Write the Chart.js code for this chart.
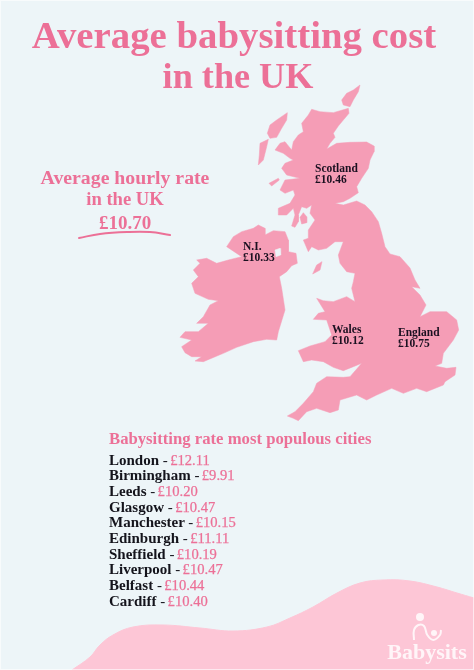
<!DOCTYPE html>
<html>
<head>
<meta charset="utf-8">
<script src="https://cdn.jsdelivr.net/npm/chart.js@4/dist/chart.umd.min.js"></script>
<style>
  html, body { margin: 0; padding: 0; background: #edf5f8; }
  #page { position: relative; width: 474px; height: 670px; overflow: hidden; }
  #page canvas { position: absolute; left: 0; top: 0; }
  #page::after { content: ''; position: absolute; inset: 0; border: 1.5px solid rgba(255,255,255,0.6); pointer-events: none; }
  .txt { position: absolute; white-space: pre; font-family: "Liberation Serif", serif; font-weight: bold; line-height: 1; }
</style>
</head>
<body>
<div id="page"><canvas id="mapChart" width="474" height="670"></canvas></div>
<script>
// Rates
const averageRate = '£10.70';
const regionNames = ['Scotland', 'N.I.', 'Wales', 'England'];
const regionRates = ['£10.46', '£10.33', '£10.12', '£10.75'];
const cities = ['London', 'Birmingham', 'Leeds', 'Glasgow', 'Manchester', 'Edinburgh', 'Sheffield', 'Liverpool', 'Belfast', 'Cardiff'];
const cityRates = ['£12.11', '£9.91', '£10.20', '£10.47', '£10.15', '£11.11', '£10.19', '£10.47', '£10.44', '£10.40'];

// Map outlines, in map units
const greatBritain = [[425,28],[450,35],[490,38],[535,25],[537,40],[520,60],[505,78],[490,100],[495,112],[480,130],[470,147],[500,130],[540,127],[590,126],[612,138],[612,155],[600,180],[595,205],[575,235],[560,260],[565,278],[540,295],[520,305],[495,310],[520,315],[560,303],[585,315],[605,335],[625,365],[635,400],[645,440],[660,462],[690,470],
  [720,504],[735,540],[750,565],[725,560],[750,585],[768,615],[750,650],[780,635],[830,635],[860,660],[866,690],[850,720],[820,760],[815,790],[795,798],[830,805],[858,802],[855,825],[825,845],[820,855],[770,875],[740,865],[700,880],[665,865],[620,885],[590,900],[560,885],[510,900],[505,930],[480,938],[440,925],[410,935],[385,962],[370,955],[352,948],[375,935],[400,910],[430,875],[440,850],[470,830],[520,832],[540,830],[575,790],[550,800],[520,812],[490,802],[460,785],[425,780],[400,785],[385,752],[420,738],[465,725],[485,705],[470,660],[430,658],[445,640],[465,635],[440,595],[460,602],[490,605],[530,590],[555,605],[545,565],[550,545],[555,520],[530,515],
  [510,490],[505,465],[520,425],[495,425],[470,445],[445,450],[425,440],[415,455],[400,420],[415,415],[415,390],[435,360],[420,340],[425,315],[410,325],[395,320],[385,345],[385,365],[375,382],[365,378],[375,345],[370,325],[350,345],[325,345],[325,325],[360,310],[375,285],[370,270],[345,280],[330,270],[345,240],[390,235],[350,225],[335,205],[345,190],[370,180],[360,175],[340,160],[315,150],[330,130],[345,125],[365,150],[370,125],[385,105],[400,95],[395,70],[415,45],[425,28]];
const ireland = [[265,375],[285,385],[285,405],[310,392],[345,395],[355,420],[355,455],[378,460],[382,490],[365,497],[350,515],[328,530],[335,565],[345,630],[325,695],[320,720],[290,718],[250,725],[200,742],[160,760],[100,785],[75,783],[95,770],[65,770],[45,758],[35,740],[65,720],[30,712],[45,695],[85,695],[115,670],[80,670],[100,650],[120,615],[145,602],[115,598],[75,580],[65,550],[85,530],[70,510],[90,490],[80,480],[110,475],[140,490],[175,480],[215,470],[170,440],[190,410],[215,395],[250,385],[265,375]];
const loughNeagh = [[315,450],[330,445],[332,465],[318,470],[315,450]];
const lewis = [[352,38],[350,60],[335,85],[320,112],[300,115],[292,100],[300,75],[320,60],[352,38]];
const uist = [[295,118],[290,140],[280,180],[265,195],[268,165],[270,130],[295,118]];
const jura = [[297,250],[325,235],[328,240],[305,258],[297,250]];
const arran = [[400,338],[410,350],[410,368],[395,372],[390,352],[400,338]];
const isleOfMan = [[428,522],[440,495],[456,485],[450,510],[428,522]];
const orkney = [[515,0],[530,-20],[550,-30],[570,-45],[565,-25],[550,0],[540,20],[520,15],[515,0]];
const islands = [lewis, uist, jura, arran, isleOfMan, orkney];

// Decoration lines
const footerWave = [[-294,1710],[-240,1671],[-210,1635],[-171,1605],[-111,1581],[-21,1575],[90,1584],[189,1593],[291,1581],[360,1554],[429,1521],[501,1479],[570,1449],[639,1440],[720,1443],[801,1461],[861,1479],[912,1494]];
const underline = [[-273,414],[-210,402],[-129,396],[-60,396],[0,405]];
const logoBody = [[732,1620],[732,1590],[745,1575],[762,1578],[772,1605],[790,1620],[810,1605],[813,1590]];
const logoHeads = [[750,1551],[792,1599]];

const pink = '#f59db6';
const bg = '#edf5f8';
const titlePink = '#ec7097';

function pts(list) {
  return list.map(function (p) { return { x: p[0], y: p[1] }; });
}
function shape(list, color) {
  return { data: pts(list), showLine: true, fill: 'shape', backgroundColor: color, borderColor: color, borderWidth: 0.5, pointRadius: 0, tension: 0 };
}

// first dataset is painted last
const datasets = [
  { data: pts(logoHeads), showLine: false, backgroundColor: '#fff5f8', pointRadius: [4, 3], pointBorderWidth: 0 },
  { data: pts(logoBody), showLine: true, fill: false, borderColor: '#fff5f8', borderWidth: 2, pointRadius: 0, tension: 0.4 },
  { data: pts(underline), showLine: true, fill: false, borderColor: titlePink, borderWidth: 2, borderCapStyle: 'round', pointRadius: 0, tension: 0.4 },
  shape(loughNeagh, bg)
];
islands.forEach(function (i) { datasets.push(shape(i, pink)); });
datasets.push(shape(greatBritain, pink));
datasets.push(shape(ireland, pink));
datasets.push({ data: pts(footerWave), showLine: true, fill: 'start', backgroundColor: '#fdc6d6', borderColor: '#fdc6d6', borderWidth: 1, pointRadius: 0, tension: 0.4 });

new Chart(document.getElementById('mapChart'), {
  type: 'scatter',
  data: { datasets: datasets },
  options: {
    responsive: false,
    animation: false,
    layout: { padding: 0, autoPadding: false },
    plugins: { legend: { display: false }, tooltip: { enabled: false } },
    scales: {
      // suggested bounds: outlines are not sorted by x
      x: { display: false, bounds: 'data', suggestedMin: -510, suggestedMax: 912 },
      y: { display: false, min: -300, max: 1710, reverse: true }
    }
  }
});

// Text goes on top of the canvas
const page = document.getElementById('page');
function addText(str, x, baseline, size, color, align, weight) {
  const el = document.createElement('div');
  el.className = 'txt';
  el.textContent = str;
  el.style.fontSize = size + 'px';
  el.style.color = color;
  el.style.top = (baseline - size * 0.8165) + 'px';
  if (weight) el.style.fontWeight = weight;
  el.style.left = x + 'px';
  if (align === 'center') el.style.transform = 'translateX(-50%)';
  page.appendChild(el);
  return el;
}

addText('Average babysitting cost', 234, 48, 38.8, titlePink, 'center');
addText('in the UK', 238, 88, 36.2, titlePink, 'center');
addText('Average hourly rate', 125, 184, 19.8, titlePink, 'center');
addText('in the UK', 125, 205, 18.6, titlePink, 'center');
addText(averageRate, 125, 229, 19, titlePink, 'center');
addText('Babysitting rate most populous cities', 109, 445, 16.7, titlePink);

const regionPos = [[315, 172], [243, 250], [332, 333], [398, 336]];
regionNames.forEach(function (name, i) {
  addText(name, regionPos[i][0], regionPos[i][1], 11.5, '#1a1020');
  addText(regionRates[i], regionPos[i][0], regionPos[i][1] + 11.5, 11.5, '#1a1020');
});

cities.forEach(function (city, i) {
  const el = addText(city + ' ', 109, 465 + i * 15.65, 15, '#14141c');
  const dash = document.createElement('span');
  dash.textContent = '- ';
  dash.style.fontWeight = 'normal';
  dash.style.letterSpacing = '-0.7px';
  const rate = document.createElement('span');
  rate.textContent = cityRates[i];
  rate.style.color = titlePink;
  rate.style.fontWeight = 'normal';
  rate.style.fontSize = '14.6px';
  rate.style.webkitTextStroke = '0.25px ' + titlePink;
  el.appendChild(dash);
  el.appendChild(rate);
});

addText('Babysits', 427, 659, 22, '#fff5f8', 'center');
</script>
</body>
</html>
